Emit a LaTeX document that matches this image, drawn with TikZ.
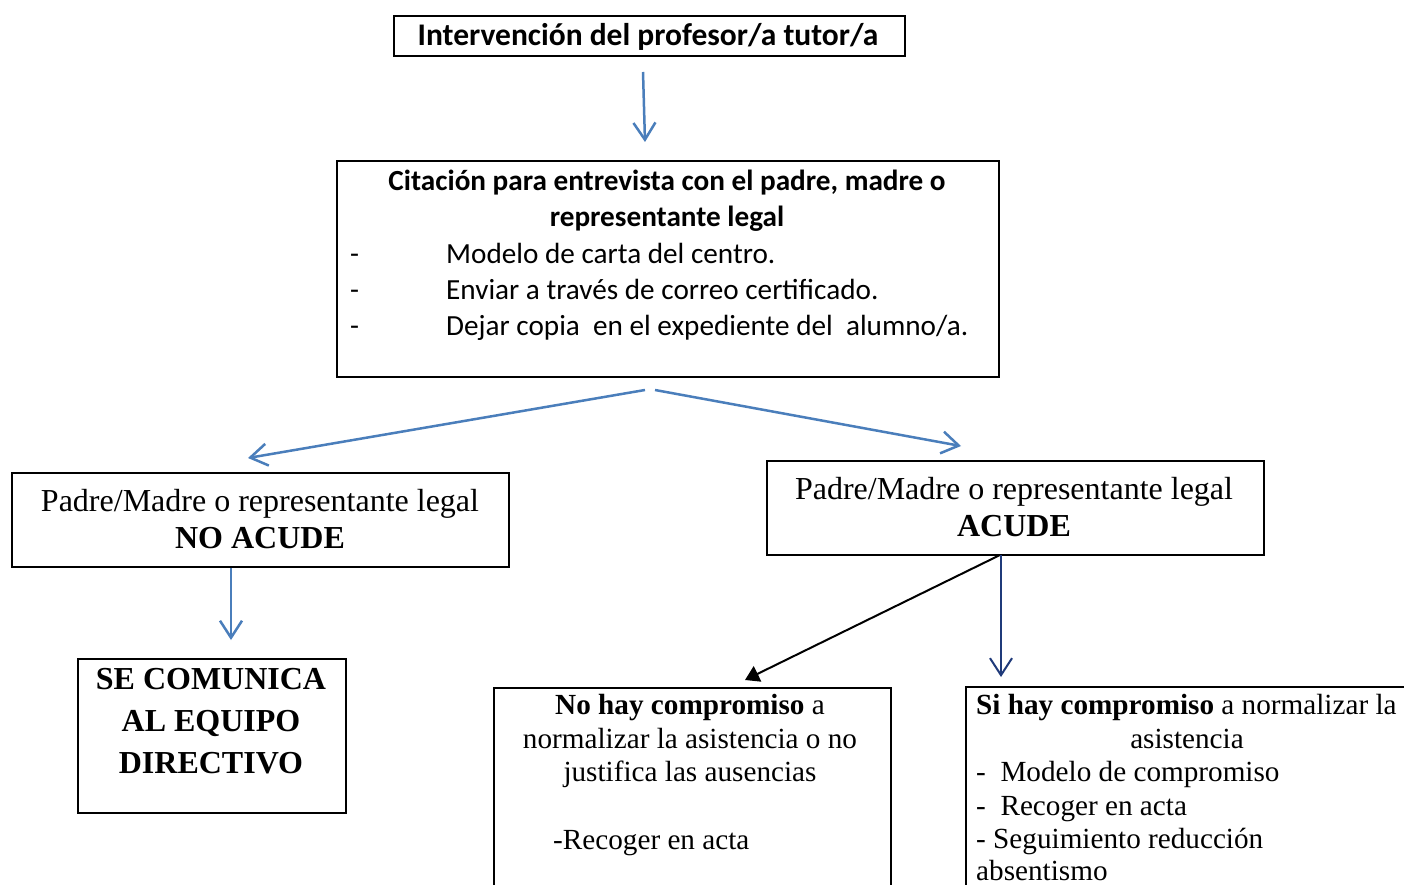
\documentclass[tikz,border=0pt]{standalone}
\usepackage{fontspec}
\setmainfont{Liberation Serif}
\newfontfamily\calfont{Carlito}
\usetikzlibrary{arrows.meta}
\definecolor{arrblue}{HTML}{4A7EBB}
\definecolor{navyblue}{HTML}{1F3A7A}
\begin{document}
\begin{tikzpicture}[x=1pt,y=-1pt,
  box/.style={draw, line width=2pt, inner sep=0pt, anchor=north west},
  cal/.style={font=\calfont\fontsize{29.2}{34}\selectfont, inner sep=0pt},
  calb/.style={font=\calfont\bfseries\fontsize{29.2}{34}\selectfont, inner sep=0pt},
  tms/.style={font=\fontsize{32}{37}\selectfont, inner sep=0pt},
  tmsbb/.style={font=\bfseries\fontsize{32}{37}\selectfont, inner sep=0pt},
  tmss/.style={font=\fontsize{29.2}{34}\selectfont, inner sep=0pt},
  barb/.style={-{Straight Barb[length=17pt,width=22pt]}, line width=2.5pt},
  bluearrow/.style={barb, draw=arrblue},
  navyarrow/.style={barb, draw=navyblue, line width=2pt},
  blackarrow/.style={-{Triangle[length=14pt,width=17pt]}, draw=black, line width=2pt}]
\clip (0,0) rectangle (1404,885);
\fill[white] (0,0) rectangle (1404,885);
% boxes
\node[box, minimum width=511pt, minimum height=40pt] (b1) at (393,15) {};
\node[box, minimum width=662pt, minimum height=216pt] (b2) at (336,160) {};
\node[box, minimum width=497pt, minimum height=94pt] (b3) at (11,472) {};
\node[box, minimum width=497pt, minimum height=94pt] (b4) at (766,460) {};
\node[box, minimum width=268pt, minimum height=154pt] (b5) at (77,658) {};
\node[box, minimum width=397pt, minimum height=240pt] (b6) at (493,687) {};
\node[box, minimum width=480pt, minimum height=240pt] (b7) at (965,686) {};
% texts
\node[calb, font=\calfont\bfseries\fontsize{31.5}{36}\selectfont, anchor=base] (t1) at (648,46) {Intervención del profesor/a tutor/a};
\node[calb, anchor=base] (t2a) at (667,191) {Citación para entrevista con el padre, madre o};
\node[calb, anchor=base] (t2b) at (667,227) {representante legal};
\node[cal, anchor=base west] (d1) at (350,263) {-};
\node[cal, anchor=base west] (d2) at (350,299) {-};
\node[cal, anchor=base west] (d3) at (350,335) {-};
\node[cal, anchor=base west] (i1) at (446,263) {Modelo de carta del centro.};
\node[cal, anchor=base west] (i2) at (446,299) {Enviar a través de correo certificado.};
\node[cal, anchor=base west] (i3) at (446,335) {Dejar copia\ \ en el expediente del\ \ alumno/a.};
\node[tms, anchor=base] (t3a) at (260,511) {Padre/Madre o representante legal};
\node[tmsbb, anchor=base] (t3b) at (260,548) {NO ACUDE};
\node[tms, anchor=base] (t4a) at (1014,499) {Padre/Madre o representante legal};
\node[tmsbb, anchor=base] (t4b) at (1014,536) {ACUDE};
\node[tmsbb, anchor=base] (t5a) at (211,689) {SE COMUNICA};
\node[tmsbb, anchor=base] (t5b) at (211,731) {AL EQUIPO};
\node[tmsbb, anchor=base] (t5c) at (211,773) {DIRECTIVO};
\node[tmss, anchor=base] (t6a) at (690,714) {\textbf{No hay compromiso} a};
\node[tmss, anchor=base] (t6b) at (690,748) {normalizar la asistencia o no};
\node[tmss, anchor=base] (t6c) at (690,781) {justifica las ausencias};
\node[tmss, anchor=base west] (t6d) at (553,849) {-Recoger en acta};
\node[tmss, anchor=base west] (t7a) at (976,714) {\textbf{Si hay compromiso} a normalizar la};
\node[tmss, anchor=base] (t7b) at (1187,748) {asistencia};
\node[tmss, anchor=base west] (t7c) at (976,781) {-\ \ Modelo de compromiso};
\node[tmss, anchor=base west] (t7d) at (976,815) {-\ \ Recoger en acta};
\node[tmss, anchor=base west] (t7e) at (976,848) {- Seguimiento reducción};
\node[tmss, anchor=base west] (t7f) at (976,880) {absentismo};
% arrow end points
\coordinate (a1s) at (643,72);
\coordinate (a1e) at (645,142);
\coordinate (a2s) at (645,390);
\coordinate (a2e) at (248,458);
\coordinate (a3s) at (655,390);
\coordinate (a3e) at (961,446);
\coordinate (a4e) at (231,640);
\coordinate (a5s) at (1000,555);
\coordinate (a5e) at (745,680);
\coordinate (a6e) at (1001,677);
% arrows
\draw[bluearrow] (a1s) -- (a1e);
\draw[bluearrow] (a2s) -- (a2e);
\draw[bluearrow] (a3s) -- (a3e);
\draw[bluearrow] (b3.south -| a4e) -- (a4e);
\draw[blackarrow] (a5s) -- (a5e);
\draw[navyarrow] (a5s -| a6e) -- (a6e);
\end{tikzpicture}
\end{document}
